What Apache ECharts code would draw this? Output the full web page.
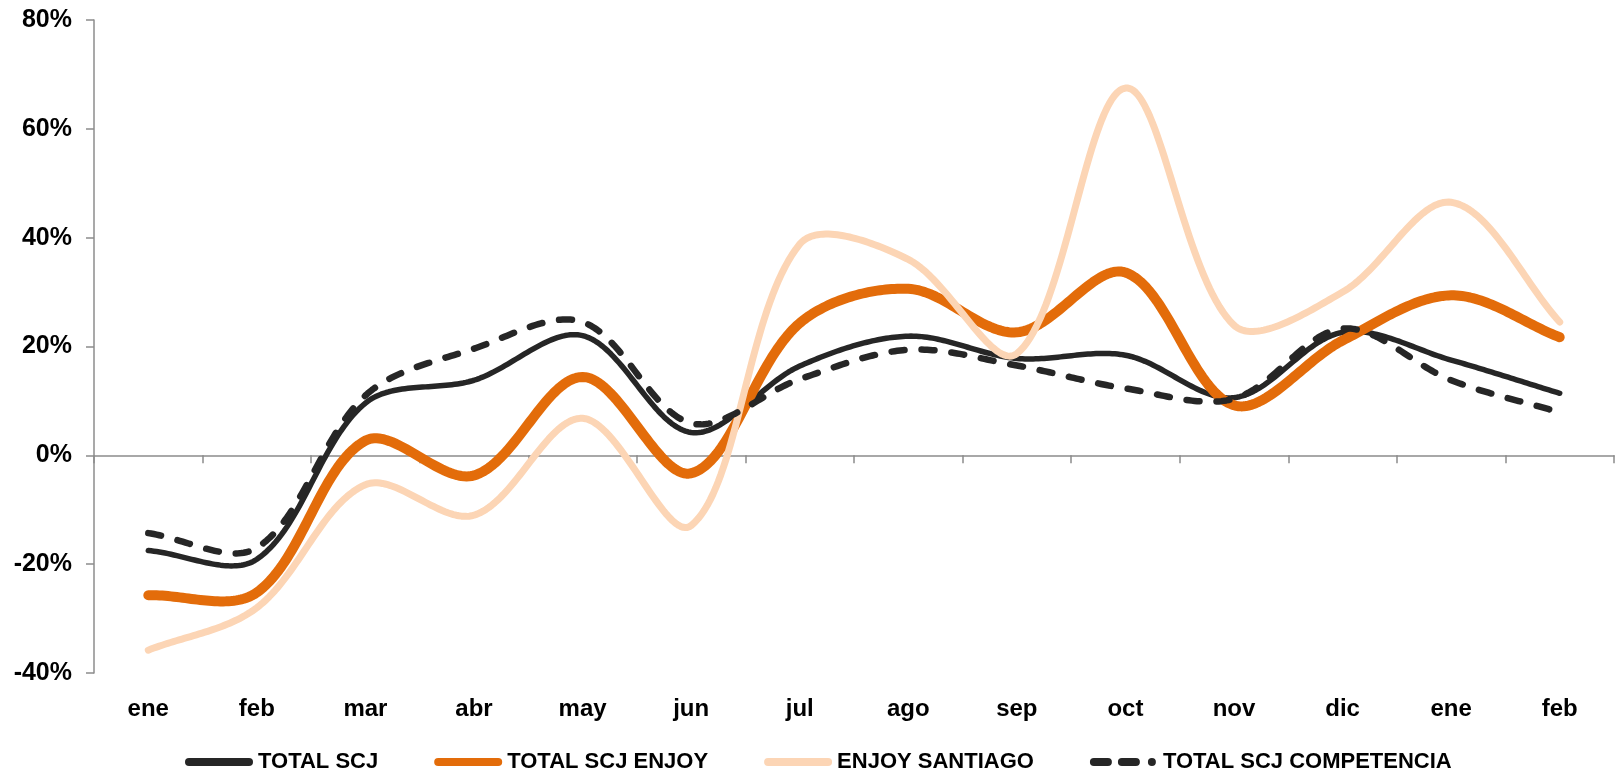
<!DOCTYPE html>
<html><head><meta charset="utf-8">
<script src="https://cdn.jsdelivr.net/npm/echarts@6/dist/echarts.min.js"></script>
<style>html,body{margin:0;padding:0;background:#fff}#c{width:1619px;height:773px}</style>
</head><body><div id="c"></div>
<script>
const categories = ['ene','feb','mar','abr','may','jun','jul','ago','sep','oct','nov','dic','ene','feb'];
const totalSCJ = [-17.5,-19.1,9.6,13.8,22.0,4.2,16.4,21.9,17.8,18.4,10.6,22.6,17.5,11.4];
const totalEnjoy = [-25.7,-25.2,2.7,-3.7,14.4,-3.3,24.3,30.6,22.6,33.6,9.2,21.1,29.4,21.7];
const enjoySantiago = [-35.8,-28.0,-5.4,-11.0,6.8,-12.9,38.8,36.0,18.7,67.5,23.9,30.0,46.5,24.5];
const totalCompetencia = [-14.3,-17.0,11.0,19.6,24.5,5.9,14.0,19.4,16.5,12.3,10.4,23.3,13.8,7.9];
const seriesNames = ['TOTAL SCJ','TOTAL SCJ ENJOY','ENJOY SANTIAGO','TOTAL SCJ COMPETENCIA'];
const yTicks = {min:-40, max:80, interval:20};

const FONT = "'Liberation Sans',Arial,sans-serif";
const chart = echarts.init(document.getElementById('c'));

// Excel-like smoothed line: cubic Bezier through each data point (positioned via the axes),
// control arms proportional to the adjacent segment lengths.
function smoothRender(values, color, width, dash){
  return function(params, api){
    if (params.dataIndex !== 0) return null;
    const P = values.map((v,i)=>api.coord([i, v]));
    const n = P.length;
    const dist = (a,b)=>Math.hypot(a[0]-b[0], a[1]-b[1]);
    const cpOut = [], cpIn = [];
    for (let i=0;i<n;i++){
      const prev = P[Math.max(i-1,0)], next = P[Math.min(i+1,n-1)], p = P[i];
      const d0 = dist(prev,p), d1 = dist(p,next), s = d0+d1 || 1;
      const vx = next[0]-prev[0], vy = next[1]-prev[1];
      cpOut[i] = [p[0]+vx*d1/(3*s), p[1]+vy*d1/(3*s)];
      cpIn[i]  = [p[0]-vx*d0/(3*s), p[1]-vy*d0/(3*s)];
    }
    const pts = [];
    for (let i=0;i<n-1;i++){
      const p1=P[i], c1=cpOut[i], c2=cpIn[i+1], p2=P[i+1];
      const steps = 40;
      for (let k=(i===0?0:1); k<=steps; k++){
        const t=k/steps, u=1-t;
        const a=u*u*u, b=3*u*u*t, c=3*u*t*t, d=t*t*t;
        pts.push([a*p1[0]+b*c1[0]+c*c2[0]+d*p2[0], a*p1[1]+b*c1[1]+c*c2[1]+d*p2[1]]);
      }
    }
    return {type:'polyline', shape:{points:pts, smooth:0},
      style:{stroke:color, fill:null, lineWidth:width, lineDash:dash||null, lineCap:'round', lineJoin:'round'}};
  };
}
function series(name, values, color, width, dash, z){
  return {name, type:'custom', coordinateSystem:'cartesian2d', xAxisIndex:1, yAxisIndex:0,
    data: values.map((v,i)=>[i,v]), encode:{x:0,y:1}, z,
    itemStyle:{color}, renderItem: smoothRender(values, color, width, dash), silent:true};
}
function capsule(x,w,h){ const r=h/2;
  return `M${x+r},0 H${x+w-r} A${r},${r} 0 0 1 ${x+w-r},${h} H${x+r} A${r},${r} 0 0 1 ${x+r},0 Z `; }
const solidIcon = 'path://' + capsule(0,68,8);
const dashIcon = 'path://' + capsule(0,22,8) + capsule(28,22,8) + capsule(58,8,8) + 'M68,0 L68,0.01 Z';

chart.setOption({
  animation:false,
  grid:{left:94, right:5, top:20, bottom:100},
  legend:{left:180, top:746, itemWidth:68, itemHeight:8, itemGap:56,
    textStyle:{fontFamily:FONT, fontWeight:'bold', fontSize:22, color:'#000'},
    data:[
      {name:seriesNames[0], icon:solidIcon, itemStyle:{color:'#262626'}},
      {name:seriesNames[1], icon:solidIcon, itemStyle:{color:'#E36C0A'}},
      {name:seriesNames[2], icon:solidIcon, itemStyle:{color:'#FCD5B5'}},
      {name:seriesNames[3], icon:dashIcon, itemStyle:{color:'#262626'}}
    ]},
  xAxis:[
    {type:'category', data:categories, boundaryGap:true, position:'bottom',
     axisLine:{show:true, onZero:true, lineStyle:{color:'#8c8c8c', width:1.5}},
     axisTick:{show:true, length:8, inside:false, lineStyle:{color:'#8c8c8c', width:1.5}},
     axisLabel:{show:false}, splitLine:{show:false}},
    {type:'category', data:categories, boundaryGap:true, position:'bottom',
     axisLine:{show:false, onZero:false}, axisTick:{show:false},
     axisLabel:{show:true, margin:24, fontFamily:FONT, fontWeight:'bold', fontSize:24, color:'#000'}}
  ],
  yAxis:{type:'value', min:yTicks.min, max:yTicks.max, interval:yTicks.interval,
    axisLine:{show:true, lineStyle:{color:'#8c8c8c', width:1.5}},
    axisTick:{show:true, length:8, lineStyle:{color:'#8c8c8c', width:1.5}},
    splitLine:{show:false},
    axisLabel:{margin:22, formatter:'{value}%', fontFamily:FONT, fontWeight:'bold', fontSize:25, color:'#000'}},
  series:[
    series(seriesNames[0], totalSCJ, '#262626', 5.5, null, 2),
    series(seriesNames[1], totalEnjoy, '#E36C0A', 10, null, 3),
    series(seriesNames[2], enjoySantiago, '#FCD5B5', 7, null, 4),
    series(seriesNames[3], totalCompetencia, '#262626', 6.5, [13,17], 5)
  ]
});
</script></body></html>
